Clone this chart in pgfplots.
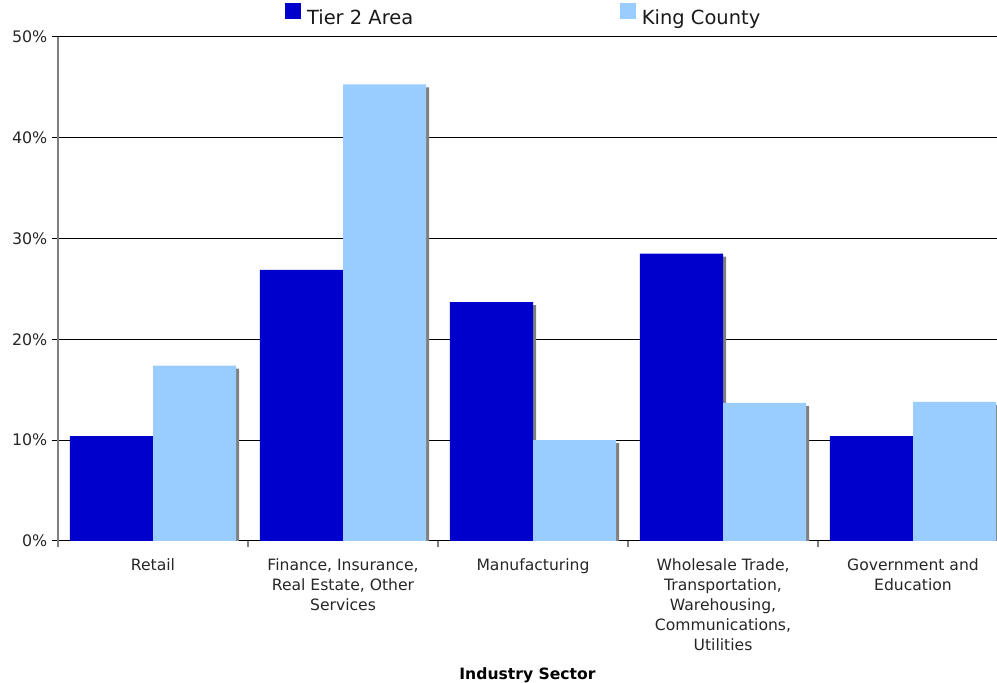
\documentclass[border=0pt]{standalone}
\usepackage{pgfplots}
\pgfplotsset{compat=1.18}
\usepackage{fontspec}
\setmainfont{DejaVu Sans}
\definecolor{tiertwo}{HTML}{0000CC}
\definecolor{king}{HTML}{99CCFF}
\definecolor{shadowgray}{HTML}{808080}
\begin{document}
\begin{tikzpicture}[x=1pt,y=1pt]
\begin{axis}[
  scale only axis,
  width=704.25pt, height=378pt,
  xmin=-0.5, xmax=4.442,
  ymin=0, ymax=50,
  ybar, bar width=0.437,
  axis x line*=bottom, axis y line*=left,
  x axis line style={black, line width=0.75pt},
  y axis line style={shadowgray, line width=0.9pt},
  tick align=outside,
  xtick={0,1,2,3,4},
  xtick style={draw=none},
  xticklabels={Retail,{Finance, Insurance,\\Real Estate, Other\\Services},Manufacturing,{Wholesale Trade,\\Transportation,\\Warehousing,\\Communications,\\Utilities},{Government and\\Education}},
  xticklabel style={align=center, font=\fontsize{11.7}{15}\selectfont, text=black!85, yshift=-5.5pt},
  extra x ticks={-0.5,0.5,1.5,2.5,3.5},
  extra x tick labels={},
  extra x tick style={xtick style={draw=shadowgray, line width=0.9pt}, major tick length=4.5pt, grid=none},
  ytick={0,10,20,30,40,50},
  yticklabels={0\%,10\%,20\%,30\%,40\%,50\%},
  yticklabel style={font=\fontsize{11.9}{13}\selectfont, text=black!85},
  ytick style={draw=black, line width=0.75pt},
  major tick length=4.5pt,
  ymajorgrids,
  grid style={black, line width=0.75pt},
  xlabel={\textbf{Industry Sector}},
  xlabel style={font=\fontsize{11.7}{13}\selectfont, yshift=3.5pt},
  legend columns=2,
  legend style={draw=none, fill=none, inner sep=0pt, at={(rel axis cs:0.2415,1)}, anchor=south west, yshift=6pt,
    font=\fontsize{14.6}{16}\selectfont, text=black!90,
    /tikz/every even column/.append style={column sep=153pt},
    /tikz/every odd column/.append style={column sep=2.5pt}},
  legend image code/.code={\fill[#1] (0pt,-1pt) rectangle (12pt,11pt);},
]
\coordinate (sw) at (rel axis cs:0,0);
\coordinate (ne) at (rel axis cs:1,1);
% drop shadows
\addplot[fill=shadowgray, draw=none, bar shift=-0.2025, forget plot] coordinates {(0,10.1) (1,26.6) (2,23.4) (3,28.2) (4,10.1)};
\addplot[fill=shadowgray, draw=none, bar shift=0.2345, forget plot] coordinates {(0,17.1) (1,45.0) (2,9.7) (3,13.4) (4,13.5)};
% bars
\addplot[fill=tiertwo, draw=none, bar shift=-0.2185] coordinates {(0,10.4) (1,26.9) (2,23.7) (3,28.5) (4,10.4)};
\addlegendentry{Tier 2 Area}
\addplot[fill=king, draw=none, bar shift=0.2185] coordinates {(0,17.4) (1,45.3) (2,10.0) (3,13.7) (4,13.8)};
\addlegendentry{King County}
\end{axis}
\pgfresetboundingbox
\path (sw) ++(-43.5pt,-106.5pt) coordinate (bl);
\path (ne) ++(0pt,27.75pt) coordinate (tr);
\path[use as bounding box] (bl) rectangle (tr);
\end{tikzpicture}
\end{document}
